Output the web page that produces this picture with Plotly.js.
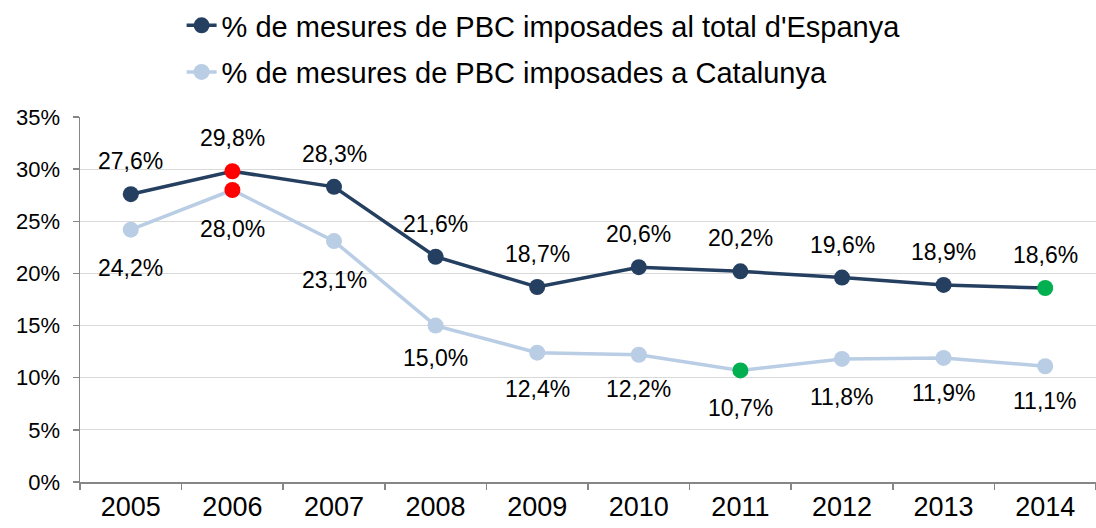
<!DOCTYPE html>
<html>
<head>
<meta charset="utf-8">
<script src="https://cdn.plot.ly/plotly-3.0.1.min.js"></script>
<style>html,body{margin:0;padding:0;background:#fff;}#chart{width:1096px;height:528px;}</style>
</head>
<body>
<div id="chart"></div>
<script>
const years = ['2005','2006','2007','2008','2009','2010','2011','2012','2013','2014'];
const espanya = [27.6, 29.8, 28.3, 21.6, 18.7, 20.6, 20.2, 19.6, 18.9, 18.6];
const catalunya = [24.2, 28.0, 23.1, 15.0, 12.4, 12.2, 10.7, 11.8, 11.9, 11.1];
const nameEspanya = "% de mesures de PBC imposades al total d'Espanya";
const nameCatalunya = "% de mesures de PBC imposades a Catalunya";
const yTickVals = [0, 5, 10, 15, 20, 25, 30, 35];
const yTickText = ['0%', '5%', '10%', '15%', '20%', '25%', '30%', '35%'];

// styling
const darkColor = '#243F60';
const lightColor = '#B9CDE5';
const red = '#FF0000';
const green = '#00B050';
const darkMarkerColors = espanya.map((v, i) => i === 1 ? red : (i === 9 ? green : darkColor));
const lightMarkerColors = catalunya.map((v, i) => i === 1 ? red : (i === 6 ? green : lightColor));
const darkLabelShift = 33;
const lightLabelShift = [-38, -39, -39, -32, -36, -34, -38, -38, -35, -35];

const fmt = v => v.toFixed(1).replace('.', ',') + '%';
const FONT = 'Liberation Sans, Arial, sans-serif';

const traces = [
  {
    x: years, y: espanya, name: nameEspanya, type: 'scatter', mode: 'lines+markers',
    line: {color: darkColor, width: 3.5},
    marker: {color: darkMarkerColors, size: 16},
    legend: 'legend', hoverinfo: 'none'
  },
  {
    x: years, y: catalunya, name: nameCatalunya, type: 'scatter', mode: 'lines+markers',
    line: {color: lightColor, width: 3.5},
    marker: {color: lightMarkerColors, size: 16},
    legend: 'legend2', hoverinfo: 'none'
  }
];

const annotations = [];
years.forEach((yr, i) => {
  annotations.push({x: i, y: espanya[i], xref: 'x', yref: 'y', text: fmt(espanya[i]),
    showarrow: false, yshift: darkLabelShift, font: {family: FONT, size: 23, color: '#000'}});
  annotations.push({x: i, y: catalunya[i], xref: 'x', yref: 'y', text: fmt(catalunya[i]),
    showarrow: false, yshift: lightLabelShift[i], font: {family: FONT, size: 23, color: '#000'}});
});

const legendFont = {family: FONT, size: 29, color: '#000'};
const layout = {
  width: 1096, height: 528,
  margin: {l: 80, r: 0, t: 117, b: 46},
  paper_bgcolor: '#fff', plot_bgcolor: '#fff',
  font: {family: FONT, color: '#000'},
  showlegend: true,
  legend: {x: 0.1, xanchor: 'left', y: 1.252, yanchor: 'middle', font: legendFont, bgcolor: 'rgba(0,0,0,0)', borderwidth: 0},
  legend2: {x: 0.1, xanchor: 'left', y: 1.123, yanchor: 'middle', font: legendFont, bgcolor: 'rgba(0,0,0,0)', borderwidth: 0},
  xaxis: {
    type: 'category', range: [-0.5, 9.5], tickson: 'boundaries',
    ticks: 'outside', ticklen: 6, tickcolor: '#868686', tickwidth: 1.5,
    showline: true, linecolor: '#868686', linewidth: 1.5,
    showgrid: false, zeroline: false,
    tickfont: {size: 27, color: '#000'}, fixedrange: true
  },
  yaxis: {
    range: [0, 35], tickvals: yTickVals, ticktext: yTickText,
    ticks: 'outside', ticklen: 6, tickcolor: '#868686', tickwidth: 1.5,
    showline: true, linecolor: '#868686', linewidth: 1.5,
    showgrid: true, gridcolor: '#D9D9D9', gridwidth: 1.2, zeroline: false,
    tickfont: {size: 22, color: '#000'}, ticklabelstandoff: 8, fixedrange: true
  },
  annotations: annotations
};

Plotly.newPlot('chart', traces, layout, {displayModeBar: false, staticPlot: true});
</script>
</body>
</html>
